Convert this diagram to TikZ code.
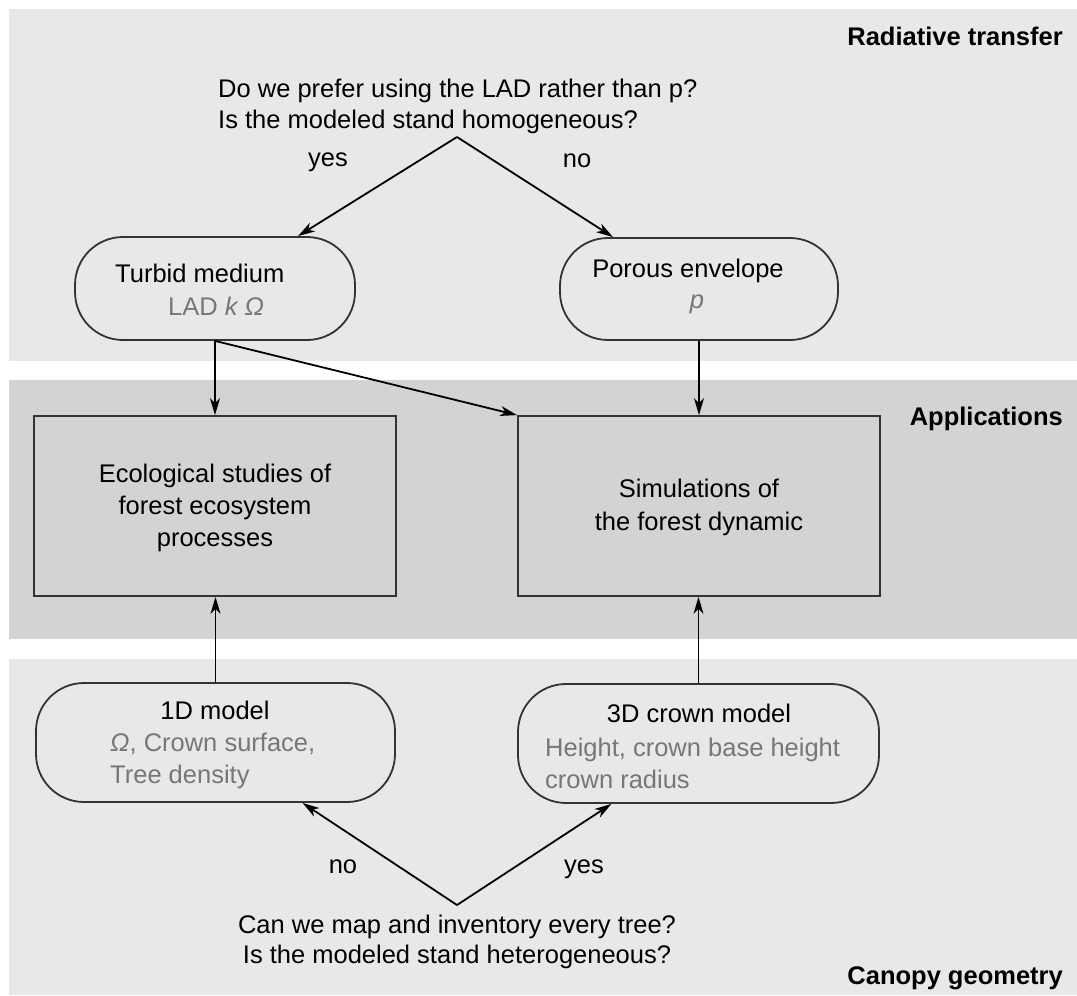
\documentclass[tikz,border=0pt]{standalone}
\usepackage{fontspec}
\setmainfont{Liberation Sans}
\usetikzlibrary{arrows.meta}
\definecolor{panelA}{HTML}{E8E8E8}
\definecolor{panelB}{HTML}{D3D3D3}
\definecolor{edgec}{HTML}{333333}
\definecolor{soft}{HTML}{777777}
\tikzset{
  rbox/.style={draw=edgec, line width=1.8pt, fill=panelA, rounded corners=48pt, inner sep=0pt},
  sbox/.style={draw=edgec, line width=1.8pt, fill=panelB, inner sep=0pt, minimum width=362pt, minimum height=180pt},
  txt/.style={font=\fontsize{25.5}{32}\selectfont, inner sep=0pt},
  ttl/.style={font=\fontsize{25.5}{32}\selectfont\bfseries, inner sep=0pt, anchor=base east},
  arr/.style={-{Stealth[length=17pt,width=10pt,inset=5pt]}, line width=1.8pt, black},
}
\begin{document}
\begin{tikzpicture}[x=1pt,y=-1pt]
\useasboundingbox (0,0) rectangle (1077,996);
% panels
\fill[panelA] (9,9) rectangle (1077,361);
\fill[panelB] (9,380) rectangle (1077,639);
\fill[panelA] (9,659) rectangle (1077,995);
% section titles
\node[ttl] (tRad) at (1063,45) {Radiative transfer};
\node[ttl] (tApp) at (1063,425) {Applications};
\node[ttl] (tCan) at (1063,984) {Canopy geometry};
% top question
\node[txt, anchor=base west] (q1a) at (218,97) {Do we prefer using the LAD rather than p?};
\node[txt, anchor=base west] (q1b) at (218,128) {Is the modeled stand homogeneous?};
\coordinate (apexTop) at (457,137);
% top boxes
\node[rbox, minimum width=280pt, minimum height=103pt] (turbid) at (215,288.5) {};
\node[rbox, minimum width=278pt, minimum height=102pt] (porous) at (699,289) {};
\node[txt, anchor=base west] (turbidA) at (115,282) {Turbid medium};
\node[txt, anchor=base west, text=soft] (turbidB) at (168,315) {LAD \textit{k Ω}};
\node[txt, anchor=base] (porousA) at (688,277) {Porous envelope};
\node[txt, anchor=base, text=soft] (porousB) at (697,308) {\textit{p}};
\node[txt, anchor=base] (yes1) at (328,166) {yes};
\node[txt, anchor=base] (no1) at (577,167) {no};
% middle boxes
\node[sbox] (eco) at (215,506) {};
\node[sbox] (sim) at (699,506) {};
\node[txt, anchor=base] (ecoA) at (215,482) {Ecological studies of};
\node[txt, anchor=base] (ecoB) at (215,514) {forest ecosystem};
\node[txt, anchor=base] (ecoC) at (215,546) {processes};
\node[txt, anchor=base] (simA) at (699,497) {Simulations of};
\node[txt, anchor=base] (simB) at (699,530) {the forest dynamic};
% bottom boxes
\node[rbox, minimum width=359pt, minimum height=119pt] (oneD) at (215.5,742.5) {};
\node[rbox, minimum width=361pt, minimum height=119pt] (threeD) at (698.5,743.5) {};
\node[txt, anchor=base] (oneDA) at (215,719) {1D model};
\node[txt, anchor=base west, text=soft] (oneDB) at (110,751) {\textit{Ω}, Crown surface,};
\node[txt, anchor=base west, text=soft] (oneDC) at (110,783) {Tree density};
\node[txt, anchor=base] (threeDA) at (699,722) {3D crown model};
\node[txt, anchor=base west, text=soft] (threeDB) at (545,756) {Height, crown base height};
\node[txt, anchor=base west, text=soft] (threeDC) at (545,788) {crown radius};
% bottom question
\coordinate (apexBot) at (457,905);
\node[txt, anchor=base] (q2a) at (457,933) {Can we map and inventory every tree?};
\node[txt, anchor=base] (q2b) at (457,963) {Is the modeled stand heterogeneous?};
\node[txt, anchor=base] (no2) at (343,873) {no};
\node[txt, anchor=base] (yes2) at (584,873) {yes};
% connectors
\draw[arr] (apexTop) -- ([xshift=83pt]turbid.north);
\draw[arr] (apexTop) -- ([xshift=-86pt]porous.north);
\draw[arr] (turbid.south) -- (eco.north);
\draw[arr] (turbid.south) -- (sim.north west);
\draw[arr] (porous.south) -- (sim.north);
\draw[arr] (oneD.north) -- (oneD.north |- eco.south);
\draw[arr] (threeD.north) -- (threeD.north |- sim.south);
\draw[arr] (apexBot) -- ([xshift=87pt]oneD.south);
\draw[arr] (apexBot) -- ([xshift=-87pt]threeD.south);
\end{tikzpicture}
\end{document}
